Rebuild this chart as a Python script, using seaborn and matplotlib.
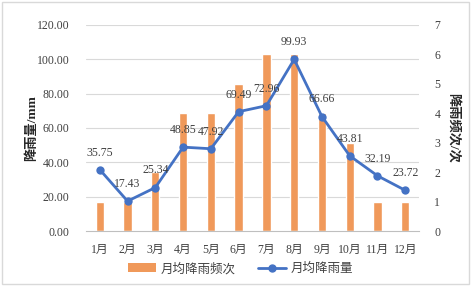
import matplotlib
matplotlib.use('Agg')
import matplotlib.pyplot as plt
import seaborn as sns
import pandas as pd
from matplotlib.patches import Rectangle, Patch
from matplotlib.lines import Line2D

# 数据
months = ['1月', '2月', '3月', '4月', '5月', '6月', '7月', '8月', '9月', '10月', '11月', '12月']
rain_amount = [35.75, 17.43, 25.34, 48.85, 47.92, 69.49, 72.96, 99.93, 66.66, 43.81, 32.19, 23.72]
rain_freq = [1, 1, 2, 4, 4, 5, 6, 6, 4, 3, 1, 1]

sns.set_style('white')
plt.rcParams['font.family'] = ['Liberation Serif', 'Noto Sans CJK SC', 'DejaVu Sans']

df = pd.DataFrame({'month': months, 'amount': rain_amount, 'freq': rain_freq})

bar_color = '#F0995A'
line_color = '#4472C4'
grid_color = '#D9D9D9'
text_color = '#404040'

fig = plt.figure(figsize=(4.72, 2.86), dpi=100)
ax = fig.add_axes([0.182, 0.192, 0.706, 0.721])
ax2 = ax.twinx()

# 柱状图 - 月均降雨频次（右轴）
sns.barplot(data=df, x='month', y='freq', color=bar_color, width=0.3, ax=ax2,
            saturation=1)
# 折线 - 月均降雨量（左轴）
sns.lineplot(data=df, x='month', y='amount', color=line_color, marker='o',
             markersize=6, linewidth=2, markeredgewidth=0, ax=ax)

ax.set_zorder(ax2.get_zorder() + 1)
ax.patch.set_visible(False)
ax2.patch.set_visible(True)

ax.set_ylim(0, 120)
ax.set_yticks(range(0, 121, 20))
ax.set_yticklabels([f'{v:.2f}' for v in range(0, 121, 20)])
ax2.set_ylim(0, 7)
ax2.set_yticks(range(0, 8))
ax.set_xlim(-0.5, 11.5)

# 网格线画在ax2上，对应左轴刻度
for v in range(20, 121, 20):
    ax2.axhline(v / 120 * 7, color=grid_color, linewidth=0.8, zorder=0)

for a in (ax, ax2):
    for s in a.spines.values():
        s.set_visible(False)
    a.tick_params(length=0, labelsize=8.5, colors=text_color)
ax.tick_params(axis='y', pad=12)
ax.tick_params(axis='x', pad=9)
ax2.tick_params(axis='y', pad=11)
ax2.spines['bottom'].set_visible(True)
ax2.spines['bottom'].set_color('#BFBFBF')

ax.set_xlabel('')
ax2.set_xlabel('')
ax.set_ylabel('降雨量/mm', fontsize=9.5, fontweight='bold', color='#262626', labelpad=-1)
ax2.set_ylabel('降雨频次/次', fontsize=9.5, fontweight='bold', color='#262626',
               rotation=270, labelpad=14)

for i, v in enumerate(rain_amount):
    ax.annotate(f'{v:.2f}', (i, v), xytext=(0, 8), textcoords='offset points',
                ha='center', va='bottom', fontsize=8.5, color=text_color)

handles = [Patch(facecolor=bar_color, edgecolor='none'),
           Line2D([0], [0], color=line_color, marker='o', markersize=5, linewidth=2)]
fig.legend(handles, ['月均降雨频次', '月均降雨量'], loc='center', ncol=2,
           bbox_to_anchor=(0.51, 0.06), frameon=False, fontsize=9,
           handlelength=2.2, columnspacing=1.8, handletextpad=0.4,
           labelcolor=text_color)

fig.patches.append(Rectangle((0.004, 0.006), 0.99, 0.986, transform=fig.transFigure,
                             fill=False, edgecolor='#D9D9D9', linewidth=1))

fig.savefig('out.png', dpi=100)
